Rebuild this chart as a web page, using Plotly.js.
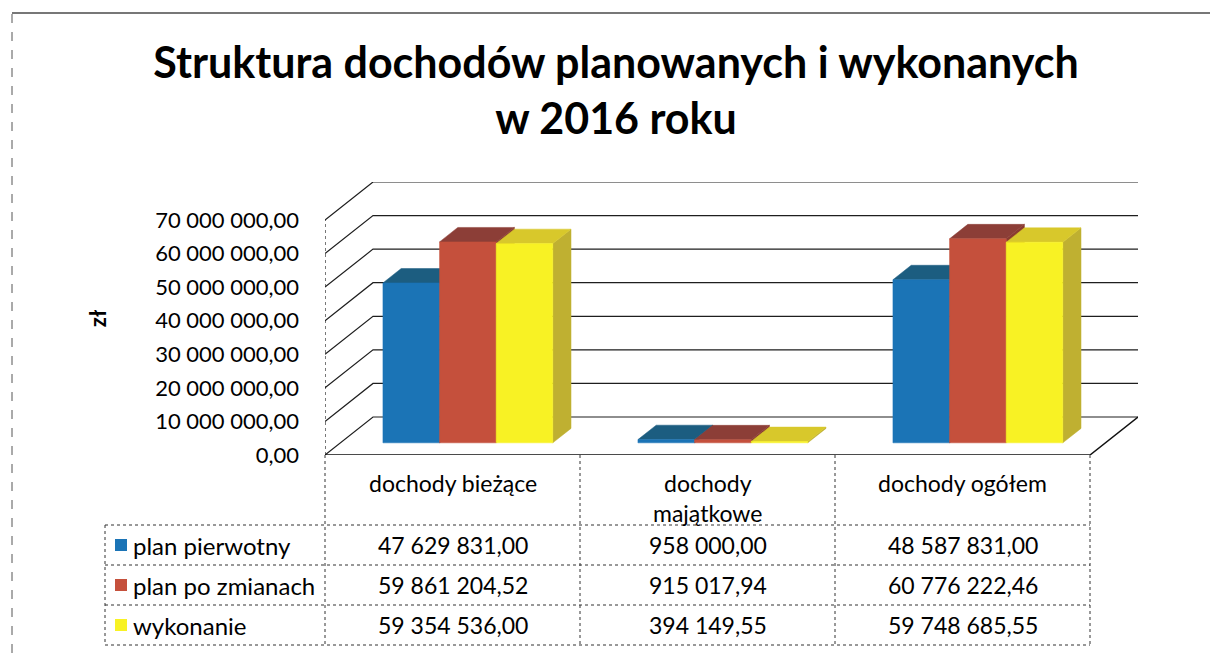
<!DOCTYPE html>
<html>
<head>
<meta charset="utf-8">
<script src="https://cdn.plot.ly/plotly-3.0.1.min.js"></script>
<style>
  html, body { margin: 0; padding: 0; background: #ffffff; }
  #chart { width: 1210px; height: 654px; }
</style>
</head>
<body>
<div id="chart"></div>
<script>
// ---- data ----
const categories = ['dochody bieżące', 'dochody majątkowe', 'dochody ogółem'];
const seriesNames = ['plan pierwotny', 'plan po zmianach', 'wykonanie'];
const planPierwotny = [47629831.00, 958000.00, 48587831.00];
const planPoZmianach = [59861204.52, 915017.94, 60776222.46];
const wykonanie = [59354536.00, 394149.55, 59748685.55];
const yTickVals = [0, 10000000, 20000000, 30000000, 40000000, 50000000, 60000000, 70000000];
const yAxisTitle = 'zł';
const chartTitle = 'Struktura dochodów planowanych i wykonanych<br>w 2016 roku';

// ---- style / layout constants ----
const series = [planPierwotny, planPoZmianach, wykonanie];
const frontColors = ['#1b74b6', '#c5503c', '#f8f224'];
const topColors = ['#1c5d80', '#8c3e37', '#d8c82b'];
const sideColors = ['#16557f', '#8a3a30', '#bfb031'];

const W = 1210, H = 654;
const M = { l: 325, r: 72, t: 182, b: 199 };
const plotW = W - M.l - M.r;      // 813
const plotH = H - M.t - M.b;      // 273
const catPx = 255;                // front-floor width of one category
const frontH = 235;               // px height of 0..70M on front plane
const depthPx = { x: 48, y: 38 }; // oblique depth offset
const yMaxFront = 70000000;
const xRange = [-0.5, -0.5 + plotW / catPx];
const yRange = [0, plotH * yMaxFront / frontH];
const ddx = depthPx.x / catPx;
const ddy = depthPx.y * yMaxFront / frontH;
const f0 = 0.32, f1 = 0.70;   // bar depth (front/back) fraction
const barW = 0.222;

const traces = [];
const gridColor = '#1e1e1e';
const FONT = 'Lato, "Noto Sans", sans-serif';

// back wall gridlines + left wall diagonals
yTickVals.forEach(t => {
  traces.push({ type: 'scatter', mode: 'lines', hoverinfo: 'skip', showlegend: false,
    x: [-0.5, -0.5 + ddx, categories.length - 0.5 + ddx],
    y: [t, t + ddy, t + ddy],
    line: { color: gridColor, width: 1.2 } });
});
// left wall front edge
traces.push({ type: 'scatter', mode: 'lines', hoverinfo: 'skip', showlegend: false,
  x: [-0.5, -0.5], y: [0, yMaxFront], line: { color: gridColor, width: 1.2, dash: 'dot' } });
// floor front + right edge
traces.push({ type: 'scatter', mode: 'lines', hoverinfo: 'skip', showlegend: false,
  x: [-0.5, categories.length - 0.5, categories.length - 0.5 + ddx],
  y: [0, 0, ddy], line: { color: '#111', width: 1.5 } });

// 3D bars
function poly(xs, ys, color) {
  traces.push({ type: 'scatter', mode: 'lines', fill: 'toself', hoverinfo: 'skip', showlegend: false,
    x: xs.concat([xs[0]]), y: ys.concat([ys[0]]), fillcolor: color, line: { color: color, width: 0.5 } });
}
categories.forEach((c, i) => {
  series.forEach((vals, s) => {
    const v = vals[i];
    const a = i + (s - 1.5) * barW;
    const b = a + barW;
    const x0 = f0 * ddx, x1 = f1 * ddx, y0 = f0 * ddy, y1 = f1 * ddy;
    // side
    poly([b + x0, b + x1, b + x1, b + x0], [y0, y1, y1 + v, y0 + v], sideColors[s]);
    // top
    poly([a + x0, b + x0, b + x1, a + x1], [y0 + v, y0 + v, y1 + v, y1 + v], topColors[s]);
    // front
    poly([a + x0, b + x0, b + x0, a + x0], [y0, y0, y0 + v, y0 + v], frontColors[s]);
  });
});

// ---- table (annotations + shapes) ----
const pxToPaperX = px => (px - M.l) / plotW;
const pxToPaperY = py => (H - M.b - py) / plotH;
const fmt = v => {
  const [ip, dp] = v.toFixed(2).split('.');
  return ip.replace(/\B(?=(\d{3})+(?!\d))/g, ' ') + ',' + dp;
};
function wrap(txt, maxChars) {
  if (txt.length <= maxChars) return [txt];
  const k = txt.lastIndexOf(' ', maxChars);
  return [txt.slice(0, k), txt.slice(k + 1)];
}

const tableFont = { family: FONT, size: 23, color: '#000' };
const legendFont = { family: FONT, size: 24, color: '#000' };
const annotations = [];
const shapes = [];
const headerY = 483, headerLineGap = 30;
const rowLines = [525, 565, 605, 645];
const tableLeft = 105;

categories.forEach((c, i) => {
  wrap(c, 16).forEach((line, j) => {
    annotations.push({ xref: 'x', yref: 'paper', x: i, y: pxToPaperY(headerY + j * headerLineGap),
      text: line, showarrow: false, xanchor: 'center', yanchor: 'middle', font: tableFont });
  });
  series.forEach((vals, s) => {
    const cy = (rowLines[s] + rowLines[s + 1]) / 2;
    annotations.push({ xref: 'x', yref: 'paper', x: i, y: pxToPaperY(cy),
      text: fmt(vals[i]), showarrow: false, xanchor: 'center', yanchor: 'middle', font: tableFont });
  });
});
seriesNames.forEach((n, s) => {
  const cy = (rowLines[s] + rowLines[s + 1]) / 2;
  annotations.push({ xref: 'paper', yref: 'paper', x: pxToPaperX(131), y: pxToPaperY(cy),
    text: n, showarrow: false, xanchor: 'left', yanchor: 'middle', font: legendFont });
  shapes.push({ type: 'rect', xref: 'paper', yref: 'paper', layer: 'above',
    x0: pxToPaperX(115), x1: pxToPaperX(127), y0: pxToPaperY(cy + 6), y1: pxToPaperY(cy - 6),
    fillcolor: frontColors[s], line: { width: 0 } });
});
const tl = { color: '#333', width: 1, dash: 'dot' };
rowLines.forEach(py => {
  shapes.push({ type: 'line', xref: 'paper', yref: 'paper',
    x0: pxToPaperX(tableLeft), x1: pxToPaperX(M.l + categories.length * catPx),
    y0: pxToPaperY(py), y1: pxToPaperY(py), line: tl });
});
shapes.push({ type: 'line', xref: 'paper', yref: 'paper',
  x0: pxToPaperX(tableLeft), x1: pxToPaperX(tableLeft),
  y0: pxToPaperY(rowLines[0]), y1: pxToPaperY(rowLines[3]), line: tl });
for (let i = 0; i <= categories.length; i++) {
  shapes.push({ type: 'line', xref: 'paper', yref: 'paper',
    x0: i * catPx / plotW, x1: i * catPx / plotW,
    y0: pxToPaperY(455), y1: pxToPaperY(rowLines[3]), line: tl });
}
// outer frame (left and top edges)
shapes.push({ type: 'line', xref: 'paper', yref: 'paper',
  x0: pxToPaperX(12), x1: pxToPaperX(12), y0: pxToPaperY(14), y1: pxToPaperY(654),
  line: { color: '#555', width: 1, dash: 'dash' } });
shapes.push({ type: 'line', xref: 'paper', yref: 'paper',
  x0: pxToPaperX(12), x1: pxToPaperX(1210), y0: pxToPaperY(13), y1: pxToPaperY(13),
  line: { color: '#777', width: 2 } });

const layout = {
  width: W, height: H,
  margin: M,
  paper_bgcolor: '#ffffff', plot_bgcolor: 'rgba(0,0,0,0)',
  separators: ', ',
  showlegend: false,
  hovermode: false,
  title: { text: chartTitle, x: 616 / W, xanchor: 'center', xref: 'container', y: 0.88, yanchor: 'top', yref: 'container',
    font: { family: FONT, size: 43, color: '#000', weight: 'bold' } },
  xaxis: { range: xRange, showgrid: false, zeroline: false, showticklabels: false, showline: false, fixedrange: true },
  yaxis: { range: yRange, tickvals: yTickVals, tickformat: ',.2f', showgrid: false, zeroline: false,
    showline: false, ticks: '', ticklabelstandoff: 25, fixedrange: true,
    tickfont: { family: FONT, size: 22, color: '#000' },
    title: { text: yAxisTitle, standoff: 42, font: { family: FONT, size: 22, color: '#000', weight: 'bold' } } },
  annotations: annotations,
  shapes: shapes
};

Plotly.newPlot('chart', traces, layout, { displayModeBar: false, staticPlot: true });
</script>
</body>
</html>
